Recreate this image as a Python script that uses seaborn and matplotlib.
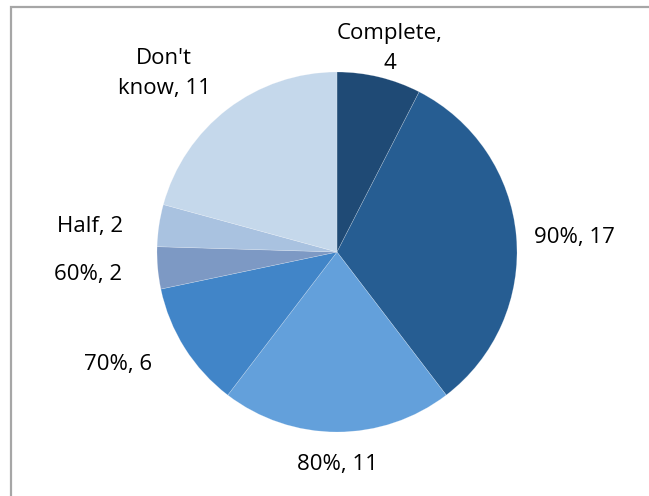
import matplotlib
matplotlib.use('Agg')
import numpy as np
import matplotlib.pyplot as plt
import seaborn as sns
from matplotlib.patches import Rectangle

# ================= data =================
categories = ['Complete', '90%', '80%', '70%', '60%', 'Half', "Don't know"]
counts = [4, 17, 11, 6, 2, 2, 11]
label_texts = ['Complete,\n4', '90%, 17', '80%, 11', '70%, 6', '60%, 2', 'Half, 2', "Don't\nknow, 11"]
slice_colors = ['#1f4a75', '#265d92', '#63a0db', '#4185c8', '#7d99c4', '#a9c2e0', '#c5d8eb']
# ========================================

sns.set_theme(style='white')
plt.rcParams['font.family'] = ['Open Sans', 'DejaVu Sans']

fig = plt.figure(figsize=(6.49, 4.96), dpi=100)
fig.patch.set_facecolor('white')

# light grey frame, as in the original export
fig.add_artist(Rectangle((11 / 649, -0.1), 1.2, 1 - 7 / 496 + 0.1,
                         transform=fig.transFigure, fill=False,
                         edgecolor='#a6a6a6', linewidth=1.6))

ax = fig.add_axes([157 / 649, 64 / 496, 360 / 649, 360 / 496])
wedges, _ = ax.pie(counts, colors=sns.color_palette(slice_colors), startangle=90,
                   counterclock=False, radius=1.0,
                   wedgeprops=dict(linewidth=0.4, edgecolor='#ffffff50'))
ax.set_xlim(-1, 1)
ax.set_ylim(-1, 1)
ax.set_aspect('equal')
ax.axis('off')

# label placement (best-fit style): distance in radii, angle nudge in degrees
label_dist = [1.17, 1.32, 1.18, 1.37, 1.39, 1.38, 1.38]
label_nudge = [-1, -1.5, 0, -5, 0, 2.5, 6.8]
for w, txt, d, nd in zip(wedges, label_texts, label_dist, label_nudge):
    ang = np.deg2rad((w.theta1 + w.theta2) / 2 + nd)
    ax.text(d * np.cos(ang), d * np.sin(ang), txt, ha='center', va='center',
            fontsize=16, color='black', linespacing=1.55, clip_on=False)

fig.savefig('out.png', dpi=100)
